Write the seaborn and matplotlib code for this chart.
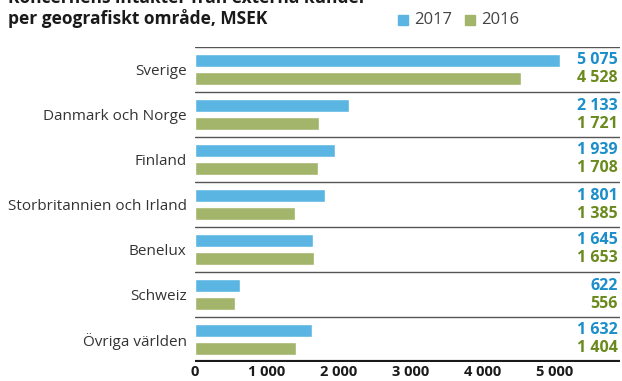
import matplotlib
matplotlib.use("Agg")
import matplotlib.pyplot as plt
import matplotlib.transforms as mtransforms
import seaborn as sns
import pandas as pd

regions = ["Sverige", "Danmark och Norge", "Finland", "Storbritannien och Irland",
           "Benelux", "Schweiz", "Övriga världen"]
sales_2017 = [5075, 2133, 1939, 1801, 1645, 622, 1632]
sales_2016 = [4528, 1721, 1708, 1385, 1653, 556, 1404]
years = ["2017", "2016"]
x_ticks = [0, 1000, 2000, 3000, 4000, 5000]
x_tick_labels = ["0", "1 000", "2 000", "3 000", "4 000", "5 000"]

bar_colors = {"2017": "#5BB5E2", "2016": "#A3B46B"}
text_colors = {"2017": "#1B8ECB", "2016": "#6B8A1E"}

df = pd.DataFrame({
    "Område": regions * 2,
    "MSEK": sales_2017 + sales_2016,
    "År": ["2017"] * len(regions) + ["2016"] * len(regions),
})

sns.set_theme(style="white")
plt.rcParams["font.family"] = ["Open Sans", "DejaVu Sans"]

fig = plt.figure(figsize=(6.22, 3.81), dpi=100)
ax = fig.add_axes([195 / 622, 1 - 362 / 381, 425 / 622, 315 / 381])

sns.barplot(data=df, y="Område", x="MSEK", hue="År", hue_order=years,
            palette=bar_colors, orient="h", width=0.8, gap=0.28,
            ax=ax, legend=False, saturation=1)

ax.set_xlim(0, 5903)
ax.set_ylim(6.5, -0.5)
for s in ax.spines.values():
    s.set_visible(False)

# separator lines between regions
for i in range(len(regions)):
    ax.axhline(i - 0.5, color="#555555", lw=1.0, zorder=3)
ax.axhline(len(regions) - 0.5, color="#1a1a1a", lw=3.0, zorder=3)

ax.set_xlabel("")
ax.set_ylabel("")
ax.set_xticks(x_ticks)
ax.set_xticklabels(x_tick_labels, fontsize=10.5, fontweight="bold", color="#1a1a1a")
ax.tick_params(axis="x", length=0, pad=2)
ax.tick_params(axis="y", length=0, pad=6)
for lbl in ax.get_yticklabels():
    lbl.set_fontsize(11)
    lbl.set_color("#333333")

# value labels at the right edge
trans = mtransforms.blended_transform_factory(ax.transAxes, ax.transData)
for i in range(len(regions)):
    for yr, vals, off in (("2017", sales_2017, -0.2), ("2016", sales_2016, 0.2)):
        txt = f"{vals[i]:,}".replace(",", " ")
        ax.text(0.995, i + off, txt, transform=trans, ha="right", va="center",
                fontsize=11.5, fontweight="bold", color=text_colors[yr])

# title (first line runs off the top edge)
fig.text(8 / 622, 1 + 2 / 381, "Koncernens intäkter från externa kunder",
         ha="left", va="center", fontsize=12.5, fontweight="bold", color="#1a1a1a")
fig.text(8 / 622, 1 - 19 / 381, "per geografiskt område, MSEK",
         ha="left", va="center", fontsize=12.5, fontweight="bold", color="#1a1a1a")

# legend
for x0, yr in ((398, "2017"), (465, "2016")):
    fig.patches.append(plt.Rectangle((x0 / 622, 1 - 25 / 381), 10 / 622, 10 / 381,
                                     transform=fig.transFigure, color=bar_colors[yr]))
    fig.text((x0 + 16) / 622, 1 - 20 / 381, yr, ha="left", va="center",
             fontsize=12, color="#444444")

fig.savefig("out.png", dpi=100)
